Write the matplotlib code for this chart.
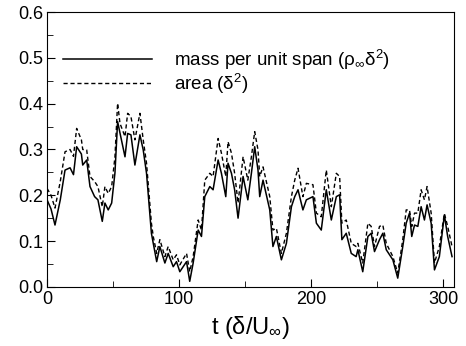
import numpy as np
import matplotlib.pyplot as plt
from matplotlib.ticker import MultipleLocator

plt.rcParams['font.family'] = ['Liberation Sans', 'DejaVu Sans']
plt.rcParams['mathtext.fontset'] = 'custom'
plt.rcParams['mathtext.rm'] = 'Liberation Sans'

# time samples (delta/U_inf)
t = [0, 3, 6, 10, 13.6, 17.4, 20, 22.4, 26, 27, 30, 32.5, 36, 38.5, 41.8, 43.8,
     46.3, 48.9, 51.4, 53.4, 55.2, 59, 61, 63.5, 66.5, 70.3, 72.8, 75.3, 79, 80.4,
     83, 85.4, 89.2, 91.7, 95.5, 98, 100.5, 105.6, 108, 110.6, 114.4, 116.9, 119.4,
     123.2, 125.7, 129.5, 132, 135.3, 137, 139.6, 142, 144.6, 148.4, 152, 154.7,
     157.2, 159.7, 161, 163.5, 168.6, 171, 173.6, 177.4, 181.2, 185, 187.5, 190,
     193.7, 196.3, 201.3, 203.9, 207.6, 211.4, 215.2, 219, 221.5, 223.2, 226.5,
     230.3, 234, 235.3, 239, 242.9, 245.4, 247.9, 251.7, 254.2, 256.8, 261.8,
     265.5, 269.3, 271.9, 274.4, 276.1, 278.2, 280.7, 283.2, 285.7, 287.7, 290.8,
     293.3, 297, 300.8, 303.3, 306.6]

# mass per unit span (rho_inf delta^2)
mass = [0.19, 0.17, 0.135, 0.19, 0.255, 0.26, 0.245, 0.306, 0.29, 0.266, 0.277,
        0.219, 0.197, 0.19, 0.143, 0.183, 0.168, 0.183, 0.249, 0.361, 0.336, 0.284,
        0.335, 0.332, 0.266, 0.332, 0.299, 0.248, 0.117, 0.095, 0.055, 0.088, 0.052,
        0.073, 0.044, 0.055, 0.033, 0.055, 0.012, 0.052, 0.124, 0.11, 0.197, 0.219,
        0.212, 0.277, 0.248, 0.197, 0.27, 0.248, 0.212, 0.15, 0.241, 0.19, 0.248,
        0.306, 0.255, 0.197, 0.233, 0.168, 0.088, 0.11, 0.059, 0.095, 0.175, 0.197,
        0.212, 0.168, 0.19, 0.197, 0.139, 0.124, 0.212, 0.146, 0.197, 0.201, 0.103,
        0.117, 0.073, 0.066, 0.081, 0.033, 0.11, 0.117, 0.077, 0.103, 0.117, 0.081,
        0.059, 0.019, 0.088, 0.139, 0.161, 0.11, 0.135, 0.132, 0.175, 0.146, 0.179,
        0.139, 0.037, 0.066, 0.157, 0.11, 0.066]

# area (delta^2)
area = [0.215, 0.2, 0.172, 0.23, 0.295, 0.3, 0.285, 0.346, 0.321, 0.3, 0.299,
        0.241, 0.23, 0.219, 0.175, 0.219, 0.204, 0.219, 0.284, 0.401, 0.357, 0.328,
        0.379, 0.372, 0.321, 0.379, 0.321, 0.27, 0.139, 0.11, 0.073, 0.103, 0.066,
        0.088, 0.059, 0.07, 0.048, 0.073, 0.033, 0.066, 0.146, 0.124, 0.233, 0.248,
        0.241, 0.324, 0.292, 0.241, 0.317, 0.292, 0.248, 0.183, 0.284, 0.233, 0.284,
        0.339, 0.299, 0.241, 0.262, 0.197, 0.124, 0.128, 0.073, 0.117, 0.197, 0.233,
        0.259, 0.197, 0.226, 0.223, 0.161, 0.153, 0.255, 0.175, 0.248, 0.241, 0.139,
        0.146, 0.095, 0.088, 0.095, 0.052, 0.139, 0.132, 0.088, 0.132, 0.135, 0.095,
        0.066, 0.03, 0.103, 0.168, 0.168, 0.132, 0.161, 0.161, 0.212, 0.19, 0.219,
        0.161, 0.052, 0.088, 0.16, 0.132, 0.088]

fig = plt.figure(figsize=(4.66, 3.46), dpi=100)
ax = fig.add_axes([0.101, 0.171, 0.873, 0.794])

ax.plot(t, mass, color='black', lw=1.1, label='mass per unit span ($\\mathregular{ρ_∞δ^2}$)')
ax.plot(t, area, color='black', lw=1.0, linestyle=(0, (3, 2)), label='area ($\\mathregular{δ^2}$)')

ax.set_xlim(0, 308)
ax.set_ylim(0, 0.6)
ax.xaxis.set_major_locator(MultipleLocator(100))
ax.xaxis.set_minor_locator(MultipleLocator(50))
ax.yaxis.set_major_locator(MultipleLocator(0.1))
ax.yaxis.set_minor_locator(MultipleLocator(0.05))
ax.yaxis.set_major_formatter(plt.FuncFormatter(lambda v, p: '%.1f' % v))
ax.tick_params(which='both', direction='in', labelsize=13, top=False, right=False)
ax.tick_params(which='major', length=6, pad=3)
ax.tick_params(which='minor', length=4)
ax.set_xlabel('t ($\\mathregular{δ/U_∞}$)', fontsize=17)
ax.xaxis.set_label_coords(0.5, -0.1, transform=ax.transAxes)
ax.xaxis.label.set_va('top')

ax.legend(loc='upper left', bbox_to_anchor=(0.039, 0.87), frameon=False, fontsize=13.5,
          handlelength=4.75, handletextpad=1.2, labelspacing=0.0, borderaxespad=0,
          borderpad=0)

fig.savefig('out.png', dpi=100)
